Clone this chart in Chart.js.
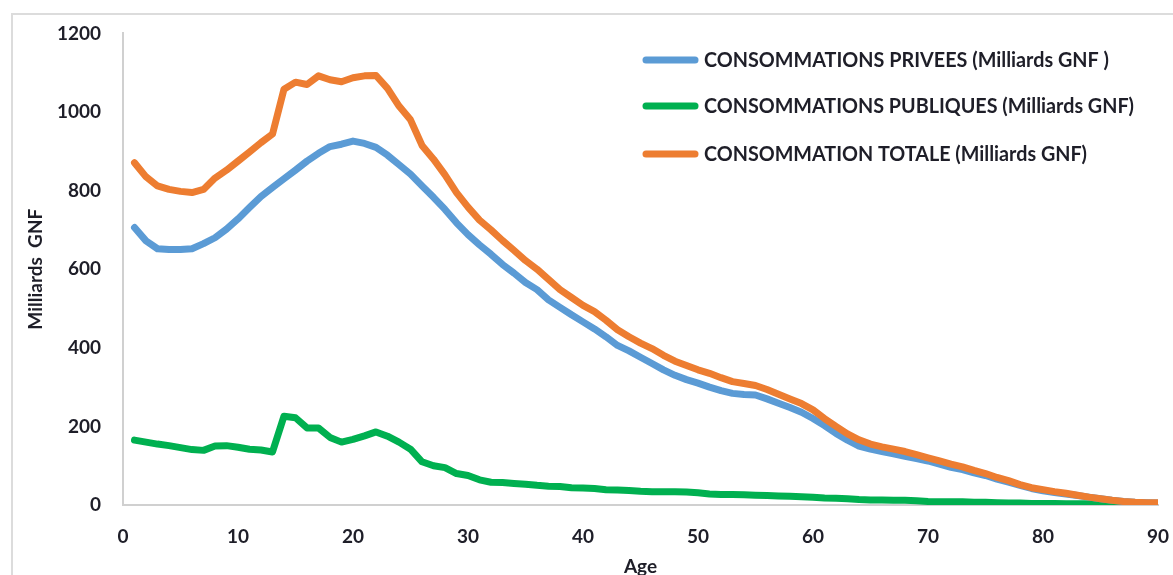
<!DOCTYPE html>
<html>
<head>
<meta charset="utf-8">
<script src="https://cdn.jsdelivr.net/npm/chart.js@4/dist/chart.umd.min.js"></script>
<style>
  html, body { margin: 0; padding: 0; background: #fff; overflow: hidden; }
  #wrap { position: relative; width: 1173px; height: 575px; overflow: hidden; }
  #frame { position: absolute; left: 11px; top: 13px; width: 1200px; height: 620px;
           border: 2px solid #dcdcdc; box-sizing: border-box; }
  #c { position: absolute; left: 0; top: 0; }
</style>
</head>
<body>
<div id="wrap">
  <div id="frame"></div>
  <canvas id="c" width="1173" height="580"></canvas>
</div>
<script>
// Consommation par âge (Milliards GNF)
const ages = [
  1, 2, 3, 4, 5, 6, 7, 8, 9, 10, 11, 12, 13, 14, 15, 16, 17, 18, 19, 20,
  21, 22, 23, 24, 25, 26, 27, 28, 29, 30, 31, 32, 33, 34, 35, 36, 37, 38, 39, 40,
  41, 42, 43, 44, 45, 46, 47, 48, 49, 50, 51, 52, 53, 54, 55, 56, 57, 58, 59, 60,
  61, 62, 63, 64, 65, 66, 67, 68, 69, 70, 71, 72, 73, 74, 75, 76, 77, 78, 79, 80,
  81, 82, 83, 84, 85, 86, 87, 88, 89, 90
];

const privees = [
  706, 672, 652, 650, 650, 652, 665, 680, 702, 728, 757, 785, 808, 830, 852, 875, 895, 912, 918, 926,
  920, 910, 890, 866, 842, 812, 783, 752, 718, 688, 662, 638, 612, 590, 566, 548, 522, 503, 484, 466,
  448, 428, 406, 392, 376, 360, 344, 330, 319, 310, 300, 291, 284, 281, 280, 270, 259, 248, 236, 220,
  202, 182, 165, 150, 142, 136, 130, 124, 118, 112, 104, 96, 90, 82, 75, 66, 58, 50, 42, 36,
  32, 28, 24, 20, 16, 12, 9, 7, 6, 5
];

const publiques = [
  165, 160, 155, 151, 146, 141, 139, 150, 151, 147, 142, 140, 135, 226, 222, 196, 196, 172, 160, 167,
  176, 186, 175, 160, 142, 110, 100, 95, 80, 75, 64, 58, 57, 55, 53, 50, 48, 47, 44, 43,
  42, 39, 38, 37, 35, 34, 34, 34, 33, 31, 28, 27, 27, 26, 25, 24, 23, 22, 21, 20,
  18, 17, 16, 14, 13, 13, 12, 12, 11, 9, 8, 8, 8, 7, 7, 6, 5, 5, 4, 4,
  4, 3, 3, 3, 2, 2, 2, 1, 1, 1
];

const totale = [
  871, 835, 812, 803, 798, 795, 803, 832, 852, 875, 898, 922, 944, 1058, 1076, 1070, 1092, 1082, 1077, 1087,
  1092, 1093, 1060, 1015, 980, 915, 880, 840, 795, 758, 725, 700, 673, 648, 622, 600, 574, 548, 528, 508,
  492, 470, 446, 428, 412, 398, 381, 366, 355, 344, 335, 324, 314, 309, 304, 294, 282, 270, 258, 242,
  220, 200, 181, 166, 155, 148, 142, 136, 128, 120, 112, 104, 97, 88, 80, 70, 62, 52, 44, 39,
  34, 30, 25, 20, 16, 12, 9, 7, 6, 6
];

const xTicks = [0, 10, 20, 30, 40, 50, 60, 70, 80, 90];
const yTicks = [0, 200, 400, 600, 800, 1000, 1200];

const seriesLabels = [
  'CONSOMMATIONS PRIVEES (Milliards GNF )',
  'CONSOMMATIONS PUBLIQUES (Milliards GNF)',
  'CONSOMMATION TOTALE (Milliards GNF)'
];

const TEXT = '#1e1e28';
const FONT = "Lato, 'Open Sans', sans-serif";

function toPoints(values) {
  return values.map((v, i) => ({ x: ages[i], y: v }));
}

// legend drawn inside the plot, Excel style
const insideLegend = {
  id: 'insideLegend',
  afterDraw(chart) {
    const ctx = chart.ctx;
    const rows = [60, 106, 154];
    const widths = [405, 430, 383];
    ctx.save();
    chart.data.datasets.forEach((ds, i) => {
      const y = rows[i];
      ctx.strokeStyle = ds.borderColor;
      ctx.lineWidth = 7;
      ctx.lineCap = 'round';
      ctx.beginPath();
      ctx.moveTo(646, y);
      ctx.lineTo(695, y);
      ctx.stroke();
      ctx.fillStyle = TEXT;
      ctx.font = 'bold 20px ' + FONT;
      ctx.textBaseline = 'middle';
      ctx.textAlign = 'left';
      ctx.fillText(ds.label, 704, y + 1, widths[i]);
    });
    ctx.restore();
  }
};

new Chart(document.getElementById('c'), {
  type: 'line',
  data: {
    datasets: [
      { label: seriesLabels[0], data: toPoints(privees), borderColor: '#5b9bd5', order: 2 },
      { label: seriesLabels[1], data: toPoints(publiques), borderColor: '#00b050', order: 3 },
      { label: seriesLabels[2], data: toPoints(totale), borderColor: '#ed7d31', order: 1 }
    ]
  },
  options: {
    responsive: false,
    animation: false,
    devicePixelRatio: 1,
    layout: { padding: { top: 32, right: 15, left: 0, bottom: 0 } },
    elements: {
      line: { borderWidth: 7, tension: 0, borderJoinStyle: 'round', borderCapStyle: 'round', fill: false },
      point: { radius: 0, hoverRadius: 0 }
    },
    plugins: {
      legend: { display: false },
      tooltip: { enabled: false }
    },
    scales: {
      x: {
        type: 'linear',
        min: 0,
        max: 90,
        afterBuildTicks: s => { s.ticks = xTicks.map(v => ({ value: v })); },
        afterFit: s => { s.height = 75; s.paddingLeft = 0; s.paddingRight = 0; },
        ticks: { color: TEXT, font: { family: FONT, size: 19, weight: 'bold' }, padding: 20, maxRotation: 0, callback: v => String(v) },
        grid: { display: false, drawTicks: false },
        border: { display: true, color: '#d0d0d0', width: 2 },
        title: { display: true, text: 'Age', color: TEXT, font: { family: FONT, size: 19, weight: 'bold' }, padding: { top: 0, bottom: 2 } }
      },
      y: {
        min: 0,
        max: 1200,
        afterBuildTicks: s => { s.ticks = yTicks.map(v => ({ value: v })); },
        afterFit: s => { s.width = 123; },
        ticks: { color: TEXT, font: { family: FONT, size: 19, weight: 'bold' }, padding: 22, callback: v => String(v) },
        grid: { display: false, drawTicks: false },
        border: { display: true, color: '#d0d0d0', width: 2 },
        title: { display: true, text: 'Milliards  GNF', color: TEXT, font: { family: FONT, size: 19, weight: 'bold' }, padding: { top: 24, bottom: 0 } }
      }
    }
  },
  plugins: [insideLegend]
});
</script>
</body>
</html>
